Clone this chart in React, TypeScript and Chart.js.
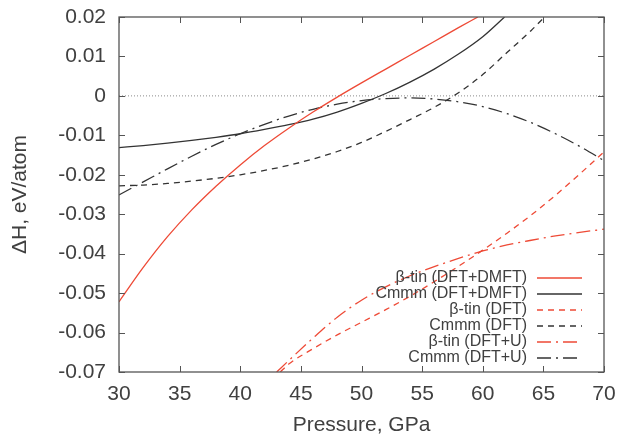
import React, { useEffect, useRef } from 'react';
import { Chart, registerables } from 'chart.js';

Chart.register(...registerables);

const FONT = "'Liberation Sans', Arial, Helvetica, sans-serif";
const RED = '#ee4a36';
const DARK = '#333333';
const TEXT = '#404040';
const AXIS = '#555555';

// β-tin (DFT+DMFT)
const tinDmftP = [30, 32, 34, 36, 38, 40, 42, 44, 46, 48, 50, 52, 54, 56, 58, 59.6];
const tinDmftH = [-0.0522, -0.0435, -0.0357, -0.0289, -0.0229, -0.0175, -0.0126, -0.0082, -0.0041, -0.0003, 0.0033, 0.0068, 0.0103, 0.0138, 0.0173, 0.02];

// Cmmm (DFT+DMFT)
const cmmmDmftP = [30, 32, 34, 36, 38, 40, 42, 44, 46, 48, 50, 52, 54, 56, 58, 60, 61.8];
const cmmmDmftH = [-0.0131, -0.0126, -0.012, -0.0113, -0.0105, -0.0096, -0.0085, -0.0073, -0.0059, -0.0041, -0.0019, 0.0006, 0.0035, 0.0068, 0.0106, 0.015, 0.02];

// β-tin (DFT)
const tinDftP = [43.3, 44, 46, 48, 50, 52, 54, 56, 58, 60, 62, 64, 66, 68, 70];
const tinDftH = [-0.07, -0.068, -0.0641, -0.0606, -0.0574, -0.0542, -0.0508, -0.0471, -0.0432, -0.0391, -0.0348, -0.0302, -0.0252, -0.0198, -0.0142];

// Cmmm (DFT)
const cmmmDftP = [30, 32, 34, 36, 38, 40, 42, 44, 46, 48, 50, 52, 54, 56, 58, 60, 62, 64, 65.1];
const cmmmDftH = [-0.0228, -0.0226, -0.0222, -0.0216, -0.0209, -0.02, -0.0189, -0.0176, -0.016, -0.0141, -0.0118, -0.009, -0.006, -0.0029, 0.0008, 0.0054, 0.011, 0.0166, 0.02];

// β-tin (DFT+U)
const tinUP = [43, 44, 46, 48, 50, 52, 54, 56, 58, 60, 62, 64, 66, 68, 70];
const tinUH = [-0.07, -0.0671, -0.0614, -0.0561, -0.0518, -0.0484, -0.0456, -0.0433, -0.0412, -0.0393, -0.0378, -0.0366, -0.0355, -0.0346, -0.0338];

// Cmmm (DFT+U)
const cmmmUP = [30, 32, 34, 36, 38, 40, 42, 44, 46, 48, 50, 52, 54, 56, 58, 60, 62, 64, 66, 68, 70];
const cmmmUH = [-0.0251, -0.0218, -0.0185, -0.0153, -0.0123, -0.0096, -0.0072, -0.0051, -0.0034, -0.0021, -0.0012, -0.0007, -0.0005, -0.0008, -0.0015, -0.0027, -0.0045, -0.0068, -0.0096, -0.0128, -0.0164];

const seriesLabels = [
  'β-tin (DFT+DMFT)',
  'Cmmm (DFT+DMFT)',
  'β-tin (DFT)',
  'Cmmm (DFT)',
  'β-tin (DFT+U)',
  'Cmmm (DFT+U)',
];
const seriesP = [tinDmftP, cmmmDmftP, tinDftP, cmmmDftP, tinUP, cmmmUP];
const seriesH = [tinDmftH, cmmmDmftH, tinDftH, cmmmDftH, tinUH, cmmmUH];
const seriesColors = [RED, DARK, RED, DARK, RED, DARK];
const DASHED = [6, 5];
const DASHDOT = [14, 5, 2, 5];
const seriesDashes: number[][] = [[], [], DASHED, DASHED, DASHDOT, DASHDOT];

const xMin = 30;
const xMax = 70;
const xStep = 5;
const yMin = -0.07;
const yMax = 0.02;
const yStep = 0.01;

const legendPlugin = {
  id: 'gpLegend',
  afterDraw(chart: any) {
    const { ctx, chartArea } = chart;
    ctx.save();
    ctx.font = `16px ${FONT}`;
    ctx.textAlign = 'right';
    ctx.textBaseline = 'middle';
    seriesLabels.forEach((label, i) => {
      const y = chartArea.bottom - 94 + i * 16;
      ctx.fillStyle = TEXT;
      ctx.fillText(label, chartArea.right - 77, y);
      ctx.strokeStyle = seriesColors[i];
      ctx.lineWidth = 1.3;
      ctx.setLineDash(seriesDashes[i]);
      ctx.beginPath();
      ctx.moveTo(chartArea.right - 67, y);
      ctx.lineTo(chartArea.right - 22, y);
      ctx.stroke();
    });
    ctx.restore();
  },
};

const framePlugin = {
  id: 'gpFrame',
  afterDatasetsDraw(chart: any) {
    const { ctx, chartArea } = chart;
    const { left, right, top, bottom } = chartArea;
    const xs = chart.scales.x;
    const ys = chart.scales.y;
    ctx.save();
    ctx.strokeStyle = AXIS;
    ctx.lineWidth = 1.3;
    ctx.setLineDash([]);
    ctx.strokeRect(left, top, right - left, bottom - top);
    ctx.lineWidth = 1;
    ctx.beginPath();
    xs.ticks.forEach((t: any) => {
      const px = Math.round(xs.getPixelForValue(t.value)) + 0.5;
      ctx.moveTo(px, bottom);
      ctx.lineTo(px, bottom - 6);
      ctx.moveTo(px, top);
      ctx.lineTo(px, top + 6);
    });
    ys.ticks.forEach((t: any) => {
      const py = Math.round(ys.getPixelForValue(t.value)) + 0.5;
      ctx.moveTo(left, py);
      ctx.lineTo(left + 6, py);
      ctx.moveTo(right, py);
      ctx.lineTo(right - 6, py);
    });
    ctx.stroke();
    ctx.restore();
  },
};

export default function App() {
  const ref = useRef<HTMLCanvasElement>(null);

  useEffect(() => {
    if (!ref.current) return;
    const datasets: any[] = seriesLabels.map((label, i) => ({
      label,
      data: seriesP[i].map((p, j) => ({ x: p, y: seriesH[i][j] })),
      borderColor: seriesColors[i],
      borderWidth: 1.3,
      borderDash: seriesDashes[i],
      pointRadius: 0,
      fill: false,
      cubicInterpolationMode: 'monotone',
    }));
    datasets.push({
      label: 'zero',
      data: [
        { x: xMin, y: 0 },
        { x: xMax, y: 0 },
      ],
      borderColor: '#8a8a8a',
      borderWidth: 1,
      borderDash: [1, 2],
      pointRadius: 0,
      fill: false,
    });

    const chart = new Chart(ref.current, {
      type: 'line',
      data: { datasets },
      plugins: [framePlugin, legendPlugin],
      options: {
        responsive: false,
        animation: false,
        layout: { padding: { top: 17, right: 17, left: 0, bottom: 0 } },
        plugins: {
          legend: { display: false },
          tooltip: { enabled: false },
        },
        scales: {
          x: {
            type: 'linear',
            min: xMin,
            max: xMax,
            afterFit: (s: any) => {
              s.height = 69;
              s.paddingLeft = 0;
              s.paddingRight = 0;
              s.paddingTop = 0;
              s.paddingBottom = 0;
            },
            ticks: {
              stepSize: xStep,
              color: TEXT,
              padding: 10,
              font: { family: FONT, size: 21 },
              maxRotation: 0,
            },
            grid: { display: false, drawTicks: false },
            border: { display: false },
            title: {
              display: true,
              text: 'Pressure, GPa',
              color: TEXT,
              font: { family: FONT, size: 21 },
              padding: { top: 0, bottom: 3 },
            },
          },
          y: {
            type: 'linear',
            min: yMin,
            max: yMax,
            afterFit: (s: any) => {
              s.width = 119;
              s.paddingLeft = 0;
              s.paddingRight = 0;
              s.paddingTop = 0;
              s.paddingBottom = 0;
            },
            ticks: {
              stepSize: yStep,
              color: TEXT,
              padding: 13,
              font: { family: FONT, size: 21 },
              callback: (v: any) => {
                const n = Number(v);
                if (Math.abs(n) < 1e-9) return '0';
                return n.toFixed(2);
              },
            },
            grid: { display: false, drawTicks: false },
            border: { display: false },
            title: {
              display: true,
              text: 'ΔH, eV/atom',
              color: TEXT,
              font: { family: FONT, size: 21 },
              padding: { top: 8, bottom: 8 },
            },
          },
        },
      },
    });
    return () => chart.destroy();
  }, []);

  return (
    <div style={{ position: 'fixed', left: 0, top: 0, width: 621, height: 441, background: '#ffffff' }}>
      <canvas ref={ref} width={621} height={441} style={{ display: 'block' }} />
    </div>
  );
}
